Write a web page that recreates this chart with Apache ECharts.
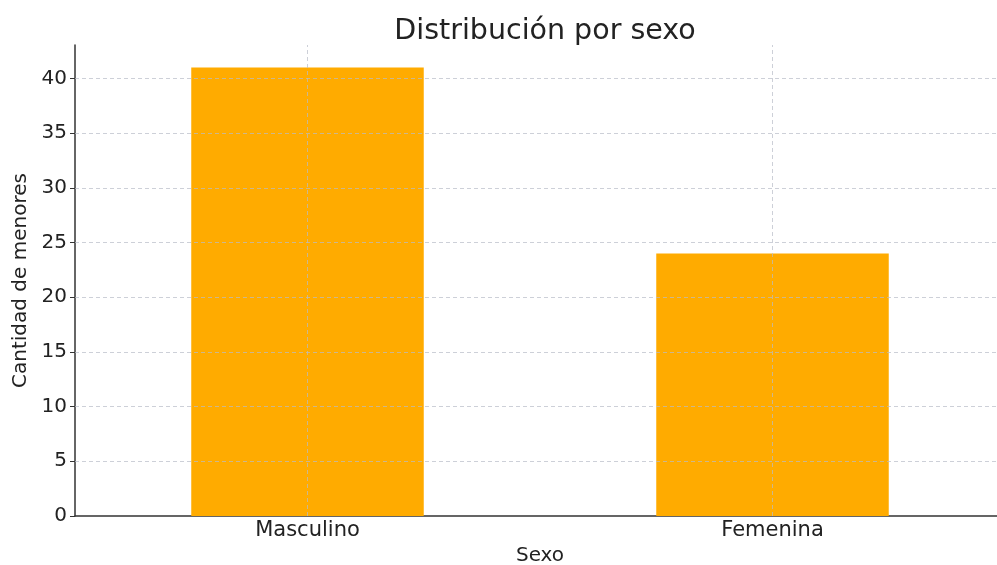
<!DOCTYPE html>
<html>
<head>
<meta charset="utf-8">
<script src="https://cdn.jsdelivr.net/npm/echarts@6/dist/echarts.min.js"></script>
<style>html,body{margin:0;padding:0;background:#fff;}#c{width:997px;height:565px;}</style>
</head>
<body>
<div id="c"></div>
<script>
const categories = ['Masculino', 'Femenina'];
const values = [41, 24];
const yTicks = [0, 5, 10, 15, 20, 25, 30, 35, 40];
const titleText = 'Distribución por sexo';
const xName = 'Sexo';
const yName = 'Cantidad de menores';

const font = 'DejaVu Sans';
const chart = echarts.init(document.getElementById('c'));
const gridLines = yTicks.filter(v => v > 0).map(v => ({ yAxis: v }))
  .concat(categories.map(c => ({ xAxis: c })));
chart.setOption({
  animation: false,
  title: { text: titleText, left: 540, top: 12, textAlign: 'center',
    textStyle: { fontFamily: font, fontSize: 28.5, fontWeight: 'normal', color: '#222' } },
  grid: { left: 75, width: 930, top: 45, bottom: 49, containLabel: false, outerBoundsMode: 'none' },
  xAxis: {
    type: 'category', data: categories, boundaryGap: true,
    name: xName, nameLocation: 'middle', nameGap: 27,
    nameTextStyle: { fontFamily: font, fontSize: 20, color: '#222' },
    axisLine: { lineStyle: { color: '#333', width: 1.5 } },
    axisTick: { alignWithLabel: true, inside: true, length: 4, lineStyle: { color: '#333' } },
    axisLabel: { fontFamily: font, fontSize: 21, color: '#222', margin: 4 },
    splitLine: { show: false }
  },
  yAxis: {
    type: 'value', min: 0, max: 43.05, interval: 5,
    name: yName, nameLocation: 'middle', nameGap: 43,
    nameTextStyle: { fontFamily: font, fontSize: 20, color: '#222' },
    axisLine: { show: true, lineStyle: { color: '#333', width: 1.5 } },
    axisTick: { show: true, length: 5, lineStyle: { color: '#333' }, customValues: yTicks },
    axisLabel: { fontFamily: font, fontSize: 20, color: '#222', margin: 8, customValues: yTicks },
    splitLine: { show: false }
  },
  series: [{
    type: 'bar', data: values, barWidth: '50%',
    itemStyle: { color: '#FFAB00' },
    markLine: {
      silent: true, symbol: 'none', label: { show: false },
      lineStyle: { type: [4, 3], color: '#b8bcc8', width: 1, opacity: 0.7 },
      data: gridLines
    }
  }]
});
</script>
</body>
</html>
